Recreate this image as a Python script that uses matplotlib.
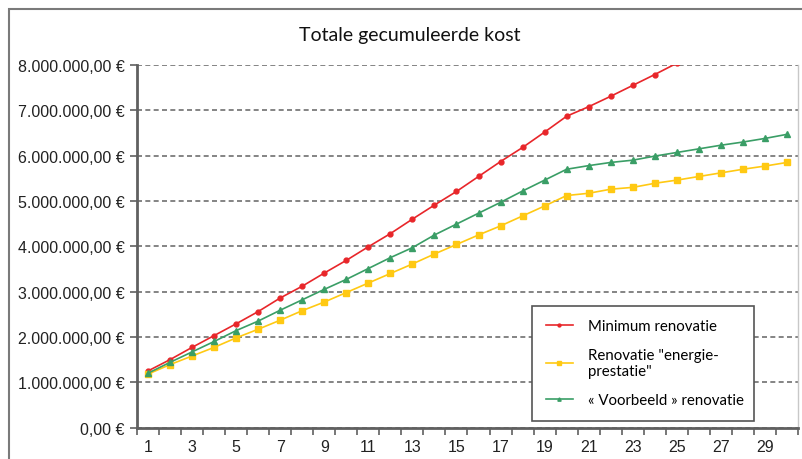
import matplotlib
matplotlib.use("Agg")
import matplotlib.pyplot as plt
from matplotlib.patches import Rectangle
from matplotlib.ticker import FuncFormatter

# jaren 1..30
jaren = list(range(1, 31))

# totale gecumuleerde kost (in miljoen euro)
minimum = [1.25, 1.50, 1.77, 2.03, 2.29, 2.56, 2.86, 3.12, 3.41, 3.69,
           3.99, 4.28, 4.60, 4.91, 5.21, 5.54, 5.87, 6.18, 6.52, 6.87,
           7.08, 7.31, 7.55, 7.79, 8.04, 8.28, 8.52, 8.76, 9.00, 9.24]
energie = [1.18, 1.39, 1.58, 1.77, 1.98, 2.17, 2.37, 2.58, 2.77, 2.98,
           3.19, 3.40, 3.61, 3.83, 4.04, 4.25, 4.45, 4.67, 4.89, 5.12,
           5.17, 5.26, 5.30, 5.39, 5.46, 5.54, 5.62, 5.70, 5.77, 5.85]
voorbeeld = [1.20, 1.44, 1.67, 1.90, 2.14, 2.35, 2.59, 2.82, 3.05, 3.27,
             3.51, 3.75, 3.97, 4.25, 4.49, 4.73, 4.97, 5.22, 5.46, 5.70,
             5.78, 5.85, 5.90, 5.99, 6.07, 6.15, 6.23, 6.30, 6.38, 6.47]

labels = ['Minimum renovatie', 'Renovatie "energie-\nprestatie"',
          '« Voorbeeld » renovatie']

plt.rcParams['font.family'] = 'Liberation Sans'

W, H = 803, 460
fig = plt.figure(figsize=(W / 100, H / 100), dpi=100)
ax = fig.add_axes([137 / W, 1 - 428.6 / H, (798 - 137) / W, (428.6 - 66) / H])

def euro(v, pos):
    s = f"{v:,.2f}"
    s = s.replace(",", "X").replace(".", ",").replace("X", ".")
    return s + " €"

mil = lambda lst: [v * 1e6 for v in lst]

ax.plot(jaren, mil(minimum), color='#e8262a', marker='o', markersize=3.5,
        linewidth=1.2, label=labels[0])
ax.plot(jaren, mil(energie), color='#ffc913', marker='s', markersize=4,
        linewidth=1.2, label=labels[1])
ax.plot(jaren, mil(voorbeeld), color='#3a9e66', marker='^', markersize=4,
        linewidth=1.2, label=labels[2])

ax.set_xlim(0.5, 30.5)
ax.set_ylim(0, 8e6)
ax.set_yticks([i * 1e6 for i in range(9)])
ax.yaxis.set_major_formatter(FuncFormatter(euro))
ax.grid(axis='y', linestyle=(0, (3, 2)), color='#707070', linewidth=1.2)
ax.set_axisbelow(True)

# tickmarks op de grenzen, labels op oneven jaren
ax.set_xticks([i + 0.5 for i in range(0, 31)])
ax.set_xticklabels([])
ax.set_xticks(list(range(1, 31, 2)), minor=True)
ax.set_xticklabels([str(i) for i in range(1, 31, 2)], minor=True)
ax.tick_params(axis='x', which='major', length=5, width=1.2, color='#606060')
ax.tick_params(axis='x', which='minor', length=0, pad=8, labelsize=11.5,
               labelcolor='#222222')
ax.tick_params(axis='y', length=5, width=1.2, color='#606060', labelsize=11.5,
               labelcolor='#222222', pad=4)

for kant in ['left', 'bottom']:
    ax.spines[kant].set_color('#606060')
    ax.spines[kant].set_linewidth(2)
ax.spines['top'].set_visible(False)
ax.spines['right'].set_color('#c8c8c8')
ax.spines['right'].set_linewidth(1)

leg = ax.legend(loc='lower left', bbox_to_anchor=(0.598, 0.019, 0.336, 0.319),
                mode='expand', borderaxespad=0, fancybox=False, framealpha=1,
                edgecolor='#555555', prop={'family': 'Lato', 'size': 10.8},
                markerscale=0.6, handlelength=1.8, handletextpad=1.0,
                labelspacing=1.0, borderpad=0.9)
leg.get_frame().set_linewidth(1.2)

fig.text(410 / W, 1 - 35 / H, 'Totale gecumuleerde kost', ha='center',
         va='center', fontsize=14, family='Lato', color='#111111')

# rand rond de grafiek
fig.patches.append(Rectangle((9 / W, -0.1), 1.2, 1 - 10 / H + 0.1,
                             transform=fig.transFigure, fill=False,
                             edgecolor='#7a7a7a', linewidth=1.5))

fig.savefig('out.png', dpi=100)
